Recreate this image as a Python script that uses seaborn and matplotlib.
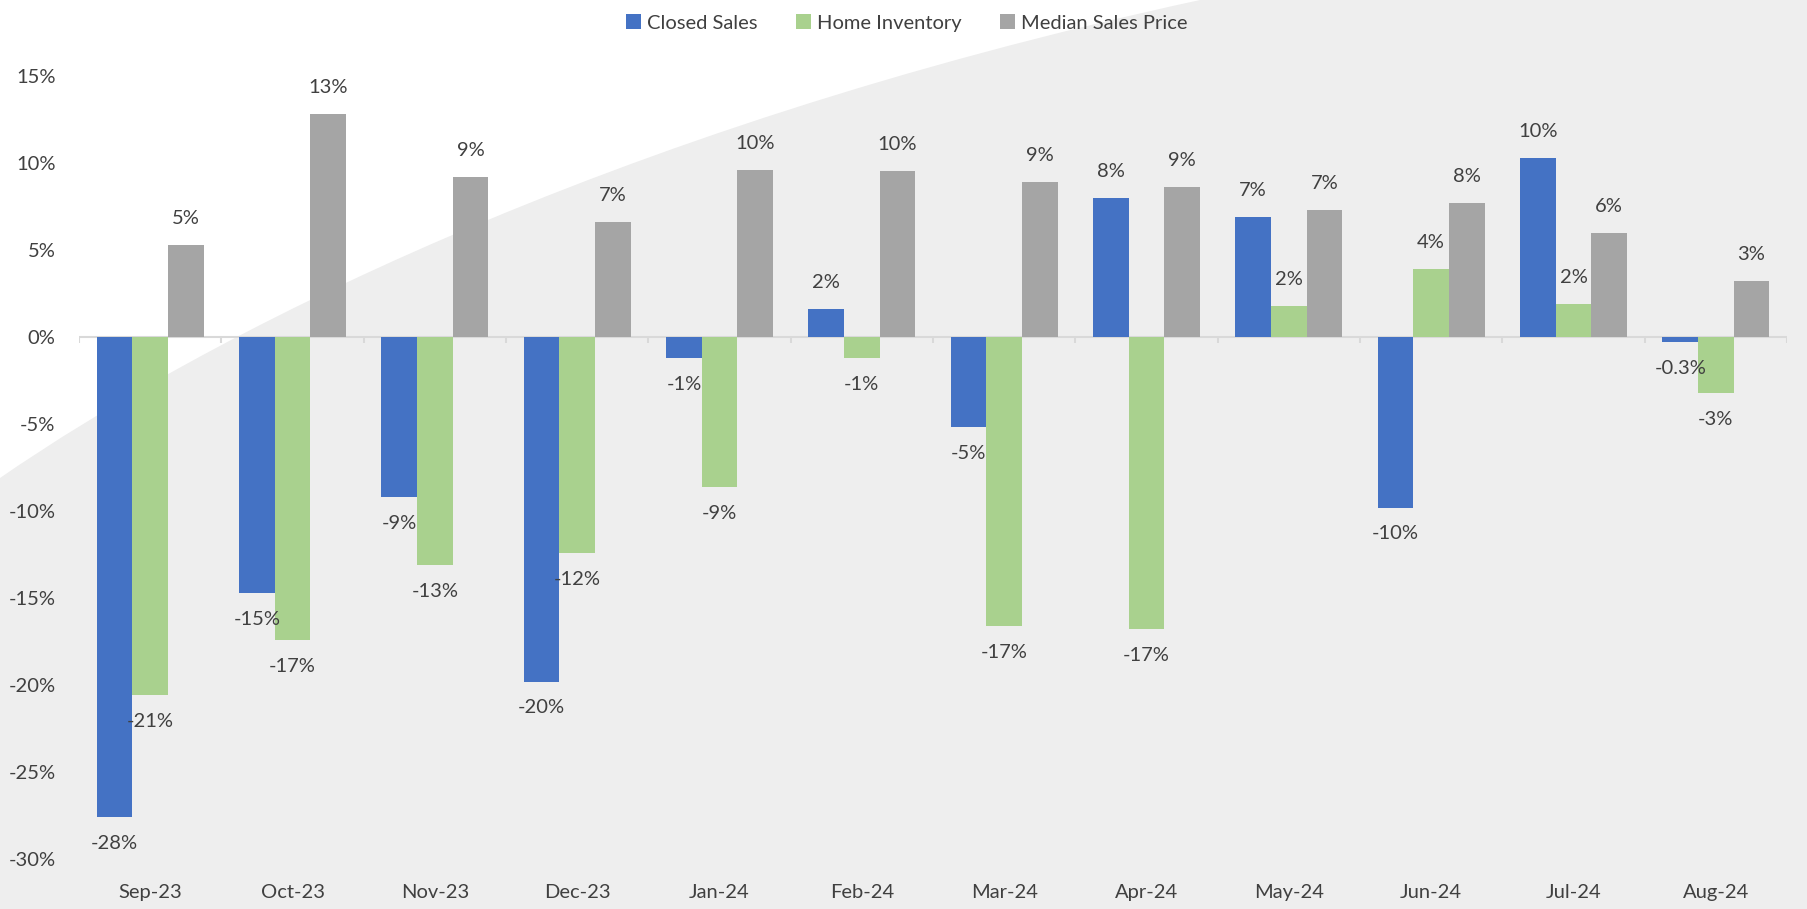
import numpy as np
import pandas as pd
import matplotlib
matplotlib.use("Agg")
import matplotlib.pyplot as plt
from matplotlib.path import Path
from matplotlib.patches import PathPatch
import seaborn as sns

# ---------------- data ----------------
months = ["Sep-23", "Oct-23", "Nov-23", "Dec-23", "Jan-24", "Feb-24",
          "Mar-24", "Apr-24", "May-24", "Jun-24", "Jul-24", "Aug-24"]
series_names = ["Closed Sales", "Home Inventory", "Median Sales Price"]
closed_sales = [-27.6, -14.7, -9.2, -19.8, -1.2, 1.6, -5.2, 8.0, 6.9, -9.8, 10.3, -0.3]
home_inventory = [-20.6, -17.4, -13.1, -12.4, -8.6, -1.2, -16.6, -16.8, 1.8, 3.9, 1.9, -3.2]
median_price = [5.3, 12.8, 9.2, 6.6, 9.6, 9.55, 8.9, 8.6, 7.3, 7.7, 6.0, 3.2]
y_ticks = [-30, -25, -20, -15, -10, -5, 0, 5, 10, 15]

colors = {"Closed Sales": "#4472C4", "Home Inventory": "#A9D18E",
          "Median Sales Price": "#A5A5A5"}

df = pd.DataFrame({
    "Month": months * 3,
    "Series": [s for s in series_names for _ in months],
    "Value": closed_sales + home_inventory + median_price,
})

# ---------------- style ----------------
sns.set_theme(style="white")
plt.rcParams["font.family"] = ["Lato", "DejaVu Sans"]
TXT = "#404040"
FS = 14.5

W, H = 1807, 909
fig = plt.figure(figsize=(W / 100, H / 100), dpi=100)
fig.patch.set_facecolor("#EEEEEE")

# decorative white swoosh in upper-left background
def fp(x, y):
    return (x / W, 1 - y / H)
verts = [fp(0, 0), fp(0, 478), fp(200, 340), fp(600, 130), fp(1200, 0), fp(0, 0)]
codes = [Path.MOVETO, Path.LINETO, Path.CURVE4, Path.CURVE4, Path.CURVE4, Path.CLOSEPOLY]
fig.add_artist(PathPatch(Path(verts, codes), facecolor="white", edgecolor="none",
                         transform=fig.transFigure, zorder=-10))

ax = fig.add_axes([79 / W, 1 - 859 / H, (1787 - 79) / W, (859 - 76) / H])
ax.set_facecolor("none")

sns.barplot(data=df, x="Month", y="Value", hue="Series", order=months,
            hue_order=series_names, palette=colors, saturation=1,
            width=0.75, linewidth=0, edgecolor="none", ax=ax, zorder=3)

ax.set_ylim(-30, 15)
ax.set_xlim(-0.5, len(months) - 0.5)
ax.set_yticks(y_ticks)
ax.set_yticklabels([f"{t}%" for t in y_ticks])
ax.set_xlabel("")
ax.set_ylabel("")
for s in ax.spines.values():
    s.set_visible(False)
ax.tick_params(axis="both", length=0, labelsize=FS, labelcolor=TXT)
ax.tick_params(axis="y", pad=17)
ax.tick_params(axis="x", pad=18)

# zero line with category-boundary tick marks
ax.axhline(0, color="#D9D9D9", lw=1.5, zorder=2)
bounds = np.arange(len(months) + 1) - 0.5
ax.vlines(bounds, -0.35, 0, color="#D9D9D9", lw=1.5, zorder=2)

# data labels
for cont in ax.containers:
    for bar in cont:
        v = bar.get_height()
        if abs(v) < 0.5:
            lab = f"{v:.1f}%"
        else:
            lab = f"{v:.0f}%"
        off = 19 if v >= 0 else -19
        ax.annotate(lab, (bar.get_x() + bar.get_width() / 2, v),
                    xytext=(0, off), textcoords="offset points",
                    ha="center", va="center", fontsize=FS, color=TXT, zorder=5)

# legend
handles, labels = ax.get_legend_handles_labels()
ax.legend_.remove()
fig.legend(handles, labels, loc="center", bbox_to_anchor=(0.502, 1 - 23 / H),
           ncol=3, frameon=False, fontsize=FS, labelcolor=TXT,
           handlelength=0.75, handleheight=0.75, handletextpad=0.3,
           columnspacing=1.9)

fig.savefig("out.png", dpi=100, facecolor=fig.get_facecolor())
